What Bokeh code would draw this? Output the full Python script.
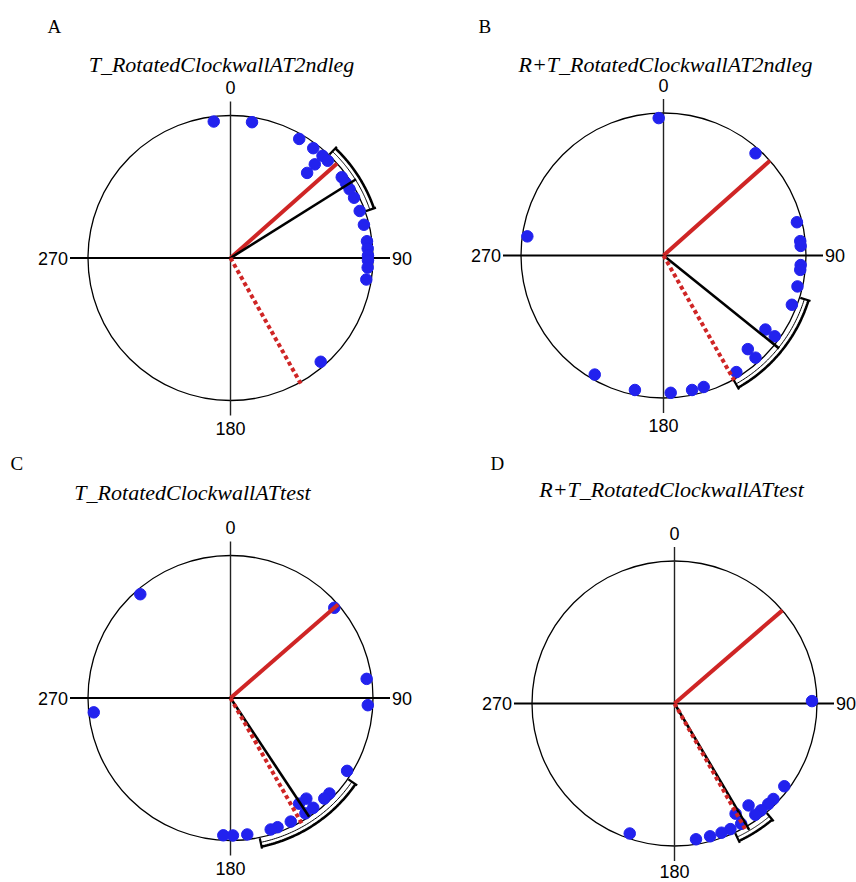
import numpy as np
from bokeh.plotting import figure
from bokeh.models import Range1d
from bokeh.core.properties import value
from bokeh.embed import file_html
from bokeh.resources import INLINE

# ---------------- data ----------------
panel_letters = ["A", "B", "C", "D"]
panel_titles = ["T_RotatedClockwallAT2ndleg", "R+T_RotatedClockwallAT2ndleg",
                "T_RotatedClockwallATtest", "R+T_RotatedClockwallATtest"]
dir_labels = ["0", "90", "180", "270"]

# individual heading angles (deg, clockwise from 0 = north); repeats stack inward
angles_A = [353, 9, 30, 37, 42, 42, 42, 45, 54, 57, 60, 64, 70, 76, 83, 86, 89, 91, 94, 99, 139]
angles_B = [358, 42, 278, 76, 84, 86, 94, 96, 103, 111, 126, 126, 138, 138, 148, 163, 168, 177, 192, 210]
angles_C = [319, 49, 264, 82, 93, 122, 134, 137, 143, 143, 147, 147, 154, 160, 163, 173, 179, 183]
angles_D = [89, 127, 134, 137, 141, 144, 144, 151, 151, 156, 160, 165, 171, 199]
panel_angles = [angles_A, angles_B, angles_C, angles_D]

red_dir = [48.4, 48.3, 49.0, 49.2]        # solid red reference direction
dotted_dir = [150.8, 150.5, 150.4, 150.6]  # dotted red reference direction
mean_dir = [57.9, 128.8, 146.5, 149.4]     # mean vector direction
mean_len = [1.04, 1.04, 1.00, 1.03]        # mean vector length (relative)
ci_low = [43.7, 107.2, 124.6, 139.9]       # confidence interval
ci_high = [70.9, 150.6, 168.2, 154.9]

# ---------------- layout ----------------
W, H = 856, 882
centers = [(230, 257.5), (663, 255), (230, 697.5), (674, 703)]
R = 142.5
title_pos = [(221, 63.5), (665, 64), (192, 492), (671, 488.5)]
letter_pos = [(47, 26), (478, 26), (10, 463), (490, 463)]

RED = "#cf2525"
BLUE = "#2222ee"

p = figure(width=W, height=H, output_backend="svg", toolbar_location=None,
           x_range=Range1d(0, W), y_range=Range1d(H, 0),
           x_axis_location=None, y_axis_location=None, min_border=0)
p.grid.visible = False
p.outline_line_color = None
p.background_fill_color = "white"
p.border_fill_color = "white"


def pos(cx, cy, ang, rho):
    a = np.radians(np.asarray(ang, dtype=float))
    return cx + rho * np.sin(a), cy - rho * np.cos(a)


serif = value("Liberation Serif")
sans = value("Liberation Sans")

for i in range(4):
    cx, cy = centers[i]
    # circle
    p.circle(x=[cx], y=[cy], radius=R, fill_color=None, line_color="black", line_width=1.3)
    # axes
    p.line([cx - R - 18, cx + R + 17], [cy, cy], line_color="black", line_width=2)
    p.line([cx, cx], [cy - R - 14, cy + R + 15], line_color="#222222", line_width=1.4)
    # direction labels
    p.text(x=[cx], y=[cy - R - 28], text=[dir_labels[0]], text_font=sans, text_font_size="18px",
           text_align="center", text_baseline="middle", text_color="black")
    p.text(x=[cx + R + 19], y=[cy], text=[dir_labels[1]], text_font=sans, text_font_size="18px",
           text_align="left", text_baseline="middle", text_color="black")
    p.text(x=[cx], y=[min(cy + R + 27.5, 871)], text=[dir_labels[2]], text_font=sans,
           text_font_size="18px", text_align="center", text_baseline="middle", text_color="black")
    p.text(x=[cx - R - 20], y=[cy], text=[dir_labels[3]], text_font=sans, text_font_size="18px",
           text_align="right", text_baseline="middle", text_color="black")

    # points with inward stacking of repeats
    seen = {}
    rhos = []
    for a in panel_angles[i]:
        k = seen.get(a, 0)
        seen[a] = k + 1
        rhos.append(R - 5 - 11.5 * k)
    px, py = pos(cx, cy, panel_angles[i], np.array(rhos))
    p.scatter(px, py, size=11.5, fill_color=BLUE, line_color=BLUE, line_width=1)

    # red solid line
    ex, ey = pos(cx, cy, [red_dir[i]], R)
    p.line([cx, ex[0]], [cy, ey[0]], line_color=RED, line_width=4)
    # mean vector
    ex, ey = pos(cx, cy, [mean_dir[i]], R * mean_len[i])
    p.line([cx, ex[0]], [cy, ey[0]], line_color="black", line_width=2.6)
    # dotted red line
    ex, ey = pos(cx, cy, [dotted_dir[i]], R * 1.01)
    p.line([cx, ex[0]], [cy, ey[0]], line_color=RED, line_width=4, line_dash="4 3")

    # confidence bracket
    th = np.linspace(ci_low[i], ci_high[i], 60)
    ox, oy = pos(cx, cy, th, R * 1.065)
    p.line(ox, oy, line_color="black", line_width=2.6)
    ix, iy = pos(cx, cy, th, R * 1.035)
    p.line(ix, iy, line_color="black", line_width=1.0)
    for a in (ci_low[i], ci_high[i]):
        tx, ty = pos(cx, cy, [a, a], np.array([R * 1.005, R * 1.08]))
        p.line(tx, ty, line_color="black", line_width=2.2)

    # titles and letters
    tx, ty = title_pos[i]
    p.text(x=[tx], y=[ty], text=[panel_titles[i]], text_font=serif, text_font_style="italic",
           text_font_size="22px", text_align="center", text_baseline="alphabetic", text_color="black")
    lx, ly = letter_pos[i]
    p.text(x=[lx], y=[ly], text=[panel_letters[i]], text_font=serif, text_font_size="19px",
           text_align="left", text_baseline="alphabetic", text_color="black")

open("out.html", "w").write(file_html(p, INLINE))
